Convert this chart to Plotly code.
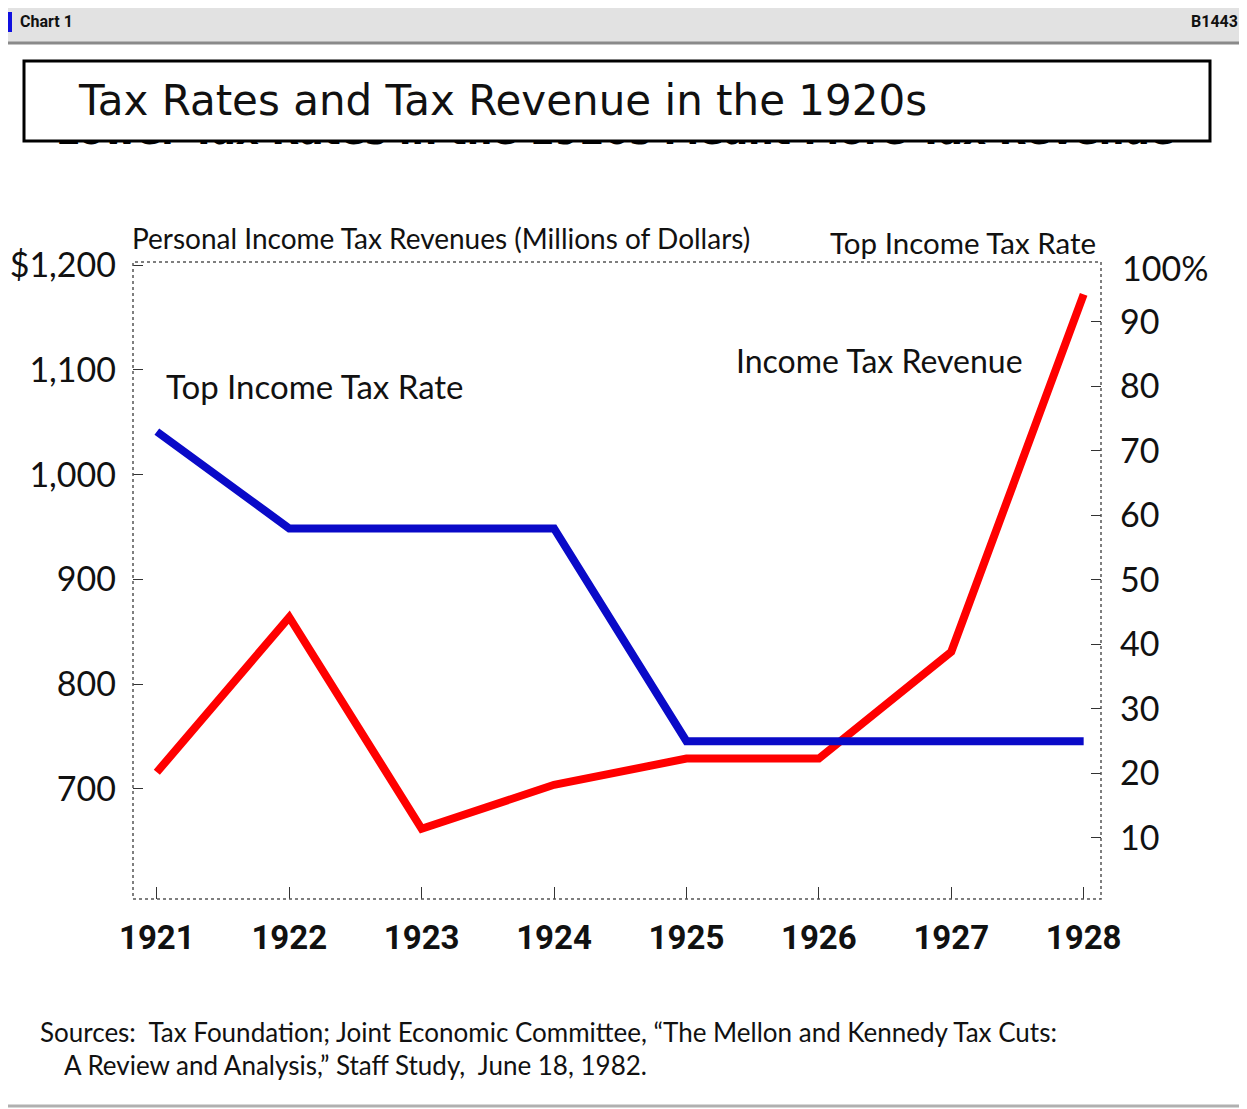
import plotly.graph_objects as go

# ---- data ----
years = [1921, 1922, 1923, 1924, 1925, 1926, 1927, 1928]
revenue = [716, 864, 662, 704, 729, 729, 831, 1172]          # $ millions
top_rate = [73, 58, 58, 58, 25, 25, 25, 25]                   # percent
left_ticks = [700, 800, 900, 1000, 1100, 1200]
left_labels = ["700", "800", "900", "1,000", "1,100", "$1,200"]
right_ticks = [10, 20, 30, 40, 50, 60, 70, 80, 90]
right_labels = ["10", "20", "30", "40", "50", "60", "70", "80", "90"]
year_labels = [str(y) for y in years]

title_text = "Tax Rates and Tax Revenue in the 1920s"
hidden_title = "Lower Tax Rates in the 1920s Meant More Tax Revenue"
left_axis_title = "Personal Income Tax Revenues (Millions of Dollars)"
right_axis_title = "Top Income Tax Rate"
rate_label = "Top Income Tax Rate"
revenue_label = "Income Tax Revenue"
source_1 = "Sources:  Tax Foundation; Joint Economic Committee, \u201cThe Mellon and Kennedy Tax Cuts:"
source_2 = "A Review and Analysis,\u201d Staff Study,  June 18, 1982."

# page body has an 8px margin; figure fills the rest of the window
OFF = 8
W, H = 1247 - OFF, 1109 - OFF
def px(x):
    return (x - OFF) / W
def py(y):
    return 1 - (y - OFF) / H

HUM = "Lato, 'Open Sans', sans-serif"
YEARF = "Roboto, 'Noto Sans', sans-serif"
TITLEF = "'DejaVu Sans', sans-serif"

fig = go.Figure()
fig.add_trace(go.Scatter(x=years, y=revenue, mode="lines",
                         line=dict(color="#ff0000", width=8), yaxis="y",
                         showlegend=False, hoverinfo="skip"))
fig.add_trace(go.Scatter(x=years, y=top_rate, mode="lines",
                         line=dict(color="#0a0ac8", width=8), yaxis="y2",
                         showlegend=False, hoverinfo="skip"))
# partially hidden subtitle peeking out under the title box
fig.add_trace(go.Scatter(x=[0.49], y=[2.2], mode="text", text=[hidden_title],
                         textposition="middle center", cliponaxis=True,
                         textfont=dict(family=TITLEF, size=36, color="black", weight="bold"),
                         xaxis="x3", yaxis="y3", showlegend=False, hoverinfo="skip"))

axis_font = dict(family=HUM, size=34, color="#111")
fig.update_layout(
    width=W, height=H,
    margin=dict(l=0, r=0, t=0, b=0, autoexpand=False),
    paper_bgcolor="white", plot_bgcolor="white",
    xaxis=dict(domain=[px(133), px(1101)], range=[1920.82, 1928.131], automargin=False,
               tickvals=years, ticktext=year_labels, ticks="inside", ticklen=12,
               tickcolor="#333", tickwidth=1, showgrid=False, zeroline=False,
               showline=False, ticklabelstandoff=16,
               tickfont=dict(family=YEARF, size=33, color="#111", weight="bold")),
    yaxis=dict(domain=[py(899), py(262)], range=[595, 1203], automargin=False,
               tickvals=left_ticks, ticktext=left_labels, ticks="inside", ticklen=10,
               tickcolor="#333", tickwidth=1, showgrid=False, zeroline=False,
               showline=False, ticklabelstandoff=16, tickfont=axis_font),
    yaxis2=dict(overlaying="y", side="right", anchor="x", range=[0.54, 99.3], automargin=False,
                tickvals=right_ticks, ticktext=right_labels, ticks="inside", ticklen=10,
                tickcolor="#333", tickwidth=1, showgrid=False, zeroline=False,
                showline=False, ticklabelstandoff=18, tickfont=axis_font),
    xaxis3=dict(domain=[0, 1], range=[0, 1], visible=False, automargin=False),
    yaxis3=dict(domain=[py(148), py(142)], range=[0, 1], visible=False, anchor="x3",
                automargin=False),
)

shapes = [
    # top window bar
    dict(type="rect", xref="paper", yref="paper", x0=0, x1=1, y0=py(44), y1=1,
         fillcolor="#e2e2e2", line=dict(width=0), layer="below"),
    dict(type="line", xref="paper", yref="paper", x0=0, x1=1, y0=py(43), y1=py(43),
         line=dict(color="#8a8a8a", width=3)),
    dict(type="rect", xref="paper", yref="paper", x0=0, x1=px(12), y0=py(32), y1=py(12),
         fillcolor="#1010e0", line=dict(width=0)),
    # title box
    dict(type="rect", xref="paper", yref="paper", x0=px(24), x1=px(1210), y0=py(141), y1=py(61),
         fillcolor="white", line=dict(color="black", width=3), layer="below"),
    # plot frame (dotted)
    dict(type="rect", xref="paper", yref="paper", x0=px(133), x1=px(1101), y0=py(899), y1=py(262),
         line=dict(color="#555", width=1.5, dash="dot"), layer="above"),
    # bottom rule
    dict(type="line", xref="paper", yref="paper", x0=0, x1=1, y0=py(1106), y1=py(1106),
         line=dict(color="#b0b0b0", width=3)),
]
fig.update_layout(shapes=shapes)

def ann(text, x, y, size, family=HUM, xanchor="left", yanchor="middle", color="#111", weight="normal"):
    return dict(text=text, x=px(x), y=py(y), xref="paper", yref="paper", showarrow=False,
                xanchor=xanchor, yanchor=yanchor,
                font=dict(family=family, size=size, color=color, weight=weight))

annotations = [
    ann("Chart 1", 18, 22, 16, family=YEARF, weight="bold"),
    ann("B1443", 1240, 22, 16, family=YEARF, xanchor="right", weight="bold"),
    ann(title_text, 76, 100, 42, family=TITLEF),
    ann(left_axis_title, 130, 238, 28),
    ann(right_axis_title, 1098, 242, 29.5, xanchor="right"),
    ann("100%", 1120, 268, 34, color="#111"),
    ann(rate_label, 164, 386, 33),
    ann(revenue_label, 734, 360, 32),
    ann(source_1, 38, 1032, 26),
    ann(source_2, 62, 1065, 26),
]
fig.update_layout(annotations=annotations)

fig.write_html("out.html")
